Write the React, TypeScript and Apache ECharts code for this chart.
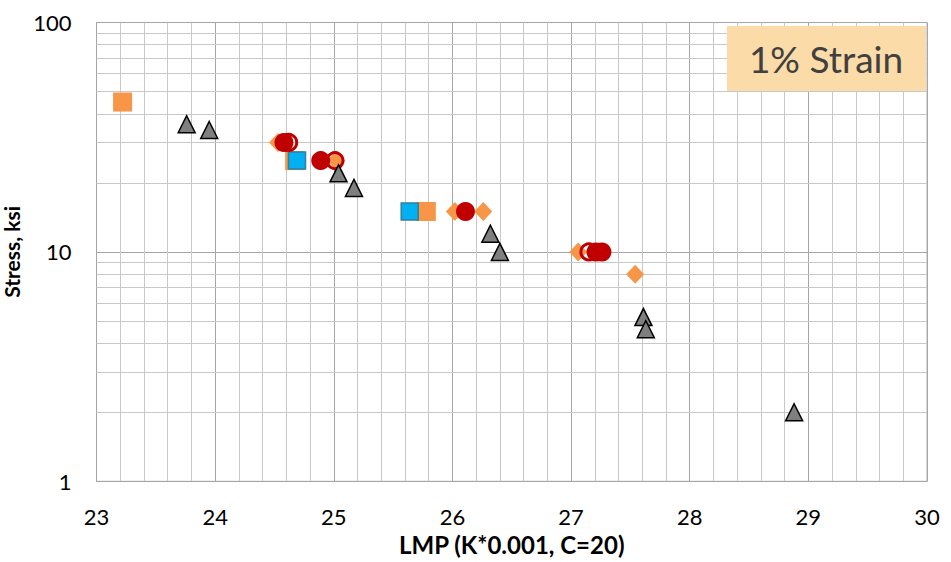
import React, { useEffect, useRef } from "react";
import * as echarts from "echarts";

const orangeSquares: [number, number][] = [[23.22, 45], [24.67, 25], [25.78, 15]];
const blueSquares: [number, number][] = [[24.69, 25], [25.64, 15]];
const orangeDiamonds: [number, number][] = [[24.53, 30], [25.02, 25], [26.02, 15], [26.26, 15], [27.06, 10], [27.54, 8]];
const redFilled: [number, number][] = [[24.58, 30], [24.89, 25], [26.11, 15], [27.21, 10], [27.26, 10]];
const redOpen: [number, number][] = [[24.62, 30], [25.01, 25], [27.15, 10]];
const triangles: [number, number][] = [[23.76, 36], [23.95, 34], [25.04, 22], [25.17, 19], [26.32, 12], [26.40, 10], [27.61, 5.2], [27.63, 4.6], [28.88, 2]];
const yMinorValues: number[] = [2, 3, 4, 5, 6, 7, 8, 9, 20, 30, 40, 50, 60, 70, 80, 90];

const FONT = "Lato";

export default function App() {
  const ref = useRef<HTMLDivElement>(null);
  useEffect(() => {
    if (!ref.current) return;
    const chart = echarts.init(ref.current, undefined, { renderer: "svg" });
    const option: any = {
      animation: false,
      backgroundColor: "#ffffff",
      grid: {
        left: 96.5, right: 24, top: 22.5, bottom: 80.7,
        show: true, borderColor: "#b0b0b0", borderWidth: 1,
        containLabel: false, outerBoundsMode: "none",
      },
      xAxis: {
        type: "value",
        min: 23,
        max: 30,
        interval: 1,
        name: "LMP (K*0.001, C=20)",
        nameLocation: "middle",
        nameGap: 50,
        nameTextStyle: { fontFamily: FONT, fontSize: 24, fontWeight: "bold", color: "#000" },
        axisLine: { show: true, lineStyle: { color: "#a6a6a6", width: 1 } },
        axisTick: { show: false },
        axisLabel: { fontFamily: FONT, fontSize: 22, color: "#000", margin: 24 },
        splitLine: { show: true, lineStyle: { color: "#a6a6a6", width: 1 } },
        minorTick: { show: false, splitNumber: 5 },
        minorSplitLine: { show: true, lineStyle: { color: "#c8c8c8", width: 1 } },
      },
      yAxis: {
        type: "log",
        logBase: 10,
        min: 1,
        max: 100,
        name: "Stress, ksi",
        nameLocation: "middle",
        nameGap: 60,
        nameRotate: 90,
        nameTextStyle: { fontFamily: FONT, fontSize: 21, fontWeight: "bold", color: "#000" },
        axisLine: { show: true, lineStyle: { color: "#a6a6a6", width: 1 } },
        axisTick: { show: false },
        axisLabel: { fontFamily: FONT, fontSize: 22, color: "#000", margin: 25 },
        splitLine: { show: true, lineStyle: { color: "#a6a6a6", width: 1 } },
        minorTick: { show: false },
        minorSplitLine: { show: false },
      },
      graphic: [
        {
          type: "rect",
          shape: { x: 727, y: 26, width: 199, height: 65 },
          style: { fill: "#FBDBA8" },
          z: 10,
        },
        {
          type: "text",
          x: 826,
          y: 58,
          style: { text: "1% Strain", fontFamily: FONT, fontSize: 37, fill: "#404040", align: "center", verticalAlign: "middle" },
          z: 11,
        },
      ],
      series: [
        {
          type: "scatter",
          data: [],
          z: 1,
          silent: true,
          markLine: {
            silent: true,
            symbol: "none",
            label: { show: false },
            lineStyle: { color: "#c8c8c8", width: 1, type: "solid" },
            data: yMinorValues.map((v) => ({ yAxis: v })),
          },
        },
        {
          name: "orangeSquares",
          type: "scatter",
          symbol: "rect",
          symbolSize: 19,
          z: 3,
          data: orangeSquares,
          itemStyle: { color: "#F79646", opacity: 1 },
        },
        {
          name: "blueSquares",
          type: "scatter",
          symbol: "rect",
          symbolSize: 17,
          z: 4,
          data: blueSquares,
          itemStyle: { color: "#00B0F0", borderColor: "#2F7F9F", borderWidth: 1.5, opacity: 1 },
        },
        {
          name: "orangeDiamonds",
          type: "scatter",
          symbol: "diamond",
          symbolSize: [18, 19],
          z: 5,
          data: orangeDiamonds,
          itemStyle: { color: "#F79646", opacity: 1 },
        },
        {
          name: "redFilled",
          type: "scatter",
          symbol: "circle",
          symbolSize: 19,
          z: 6,
          data: redFilled,
          itemStyle: { color: "#C00000", opacity: 1 },
        },
        {
          name: "redOpen",
          type: "scatter",
          symbol: "circle",
          symbolSize: 16,
          z: 7,
          data: redOpen,
          itemStyle: { color: "rgba(0,0,0,0)", borderColor: "#C00000", borderWidth: 3, opacity: 1 },
        },
        {
          name: "triangles",
          type: "scatter",
          symbol: "triangle",
          symbolSize: [17, 17],
          z: 8,
          data: triangles,
          itemStyle: { color: "#7F7F7F", borderColor: "#000000", borderWidth: 1.5, opacity: 1 },
        },
      ],
    };
    chart.setOption(option);
    return () => chart.dispose();
  }, []);
  return <div ref={ref} style={{ width: 951, height: 562, position: "absolute", left: 0, top: 0 }} />;
}
